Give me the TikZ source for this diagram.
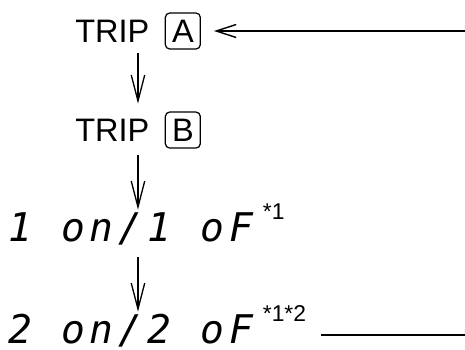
\documentclass[tikz,border=0pt]{standalone}
\usepackage{fontspec}
\setsansfont{Liberation Sans}
\newfontfamily\segfont{DejaVu Sans Mono}[LetterSpace=12.8]
\usetikzlibrary{arrows.meta, positioning, fit}
\newcommand{\supmark}[1]{\raisebox{0.43cm}{\upshape\sffamily\fontsize{13}{15}\selectfont #1}}
\tikzset{
	trip/.style={inner sep=0pt, font=\sffamily\fontsize{18.5}{22}\selectfont},
	keybox/.style={rectangle, rounded corners=2.5pt, draw, line width=0.7pt, inner sep=0pt, minimum width=0.7cm, minimum height=0.72cm, font=\sffamily\fontsize{18.5}{22}\selectfont},
	tripgroup/.style={inner sep=0pt},
	segline/.style={inner sep=0pt, anchor=base west, text height=0.62cm, text depth=0pt, font=\segfont\itshape\fontsize{22.5}{27}\selectfont},
	arrow/.style={-{Straight Barb[length=0.52cm, width=0.27cm]}, line width=0.75pt},
	sidearrow/.style={-{Straight Barb[length=0.4cm, width=0.26cm]}, line width=0.8pt},
	backline/.style={line width=0.8pt},
}

\begin{document}
\begin{tikzpicture}[x=0.02cm, y=-0.02cm]
	\useasboundingbox (0,0) rectangle (465,349);
	\node[trip, anchor=west] (tripA) at (75,31) {TRIP};
	\node[keybox, right=0.3cm of tripA] (keyA) {A};
	\node[trip, below=1.52cm of tripA] (tripB) {TRIP};
	\node[keybox, right=0.3cm of tripB] (keyB) {B};
	\node[tripgroup, fit=(tripA)(keyA)] (stepA) {};
	\node[tripgroup, fit=(tripB)(keyB)] (stepB) {};
	\node[segline] (on1) at (8,241) {1 on/1 oF\hspace{0.2cm}\supmark{*1}};
	\node[segline] (on2) at (8,343) {2 on/2 oF\hspace{0.2cm}\supmark{*1*2}};
	\coordinate (topR) at (465,0 |- keyA.east);
	\coordinate (botR) at (465,335);
	\draw[arrow, shorten <=0.06cm, shorten >=0.15cm] (stepA) -- (stepB);
	\draw[arrow, shorten <=0.11cm] (stepB.south) -- (stepB.south |- on1.north);
	\draw[arrow, shorten <=0.32cm] (stepB.south |- on1.south) -- (stepB.south |- on2.north);
	\draw[sidearrow, shorten >=0.26cm] (topR) -- (keyA.east);
	\draw[backline] ([xshift=0.3cm]on2.east |- botR) -- (botR);
\end{tikzpicture}
\end{document}
